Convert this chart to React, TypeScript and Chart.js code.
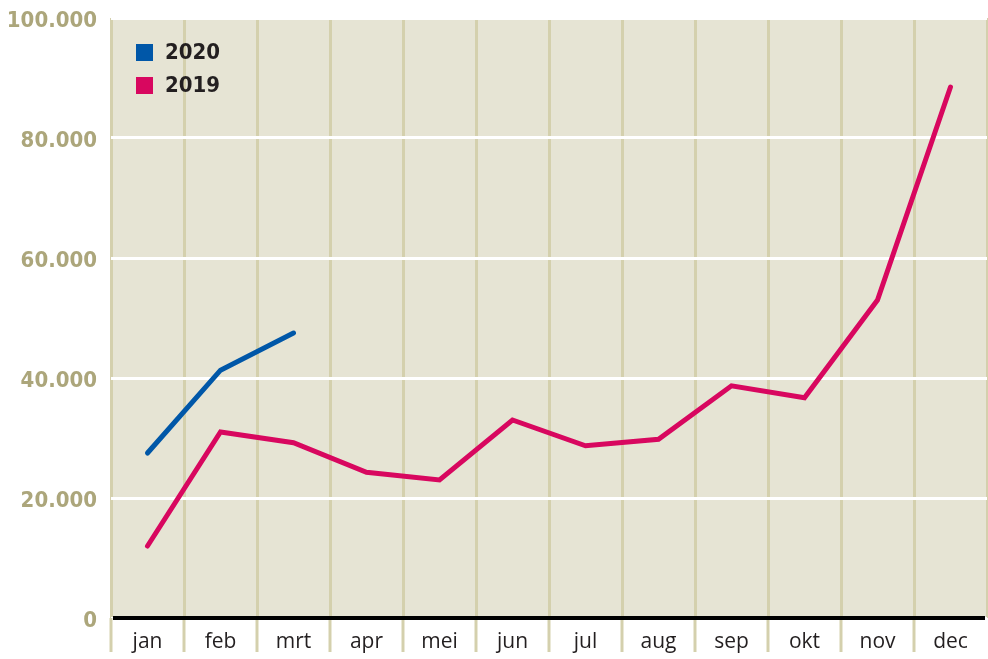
import React, { useEffect, useRef } from "react";
import { Chart, registerables } from "chart.js";

Chart.register(...registerables);

const months = ["jan", "feb", "mrt", "apr", "mei", "jun", "jul", "aug", "sep", "okt", "nov", "dec"];
const values2020 = [27500, 41300, 47500];
const values2019 = [12000, 31000, 29200, 24300, 23000, 33000, 28700, 29800, 38700, 36700, 53000, 88500];
const seriesLabels = ["2020", "2019"];
const seriesColors = ["#0057a8", "#d8075f"];

const formatTick = (v: number) => String(v).replace(/\B(?=(\d{3})+(?!\d))/g, ".");

const decorPlugin = {
  id: "decor",
  beforeDraw(chart: any) {
    const { ctx, chartArea } = chart;
    ctx.save();
    ctx.fillStyle = "#e6e4d4";
    ctx.fillRect(chartArea.left, chartArea.top, chartArea.right - chartArea.left, chartArea.bottom - chartArea.top);
    ctx.restore();
  },
  afterDraw(chart: any) {
    const { ctx, chartArea, height } = chart;
    const x = chart.scales.x;
    ctx.save();
    ctx.strokeStyle = "#d4d0ad";
    ctx.lineWidth = 3;
    for (let i = 0; i < months.length; i++) {
      const px = x.getPixelForValue(i - 0.5);
      ctx.beginPath();
      ctx.moveTo(px, chartArea.bottom);
      ctx.lineTo(px, height - 7);
      ctx.stroke();
    }
    const y0 = chart.scales.y.getPixelForValue(0);
    ctx.strokeStyle = "#000";
    ctx.lineWidth = 4;
    ctx.beginPath();
    ctx.moveTo(chartArea.left + 2, y0);
    ctx.lineTo(chartArea.right - 2, y0);
    ctx.stroke();
    ctx.font = "bold 22px 'DejaVu Sans Condensed', 'Liberation Sans', sans-serif";
    ctx.textBaseline = "middle";
    ctx.textAlign = "left";
    chart.data.datasets.forEach((ds: any, i: number) => {
      const top = chartArea.top + 26 + i * 33;
      ctx.fillStyle = ds.borderColor;
      ctx.fillRect(chartArea.left + 25, top, 17, 17);
      ctx.fillStyle = "#231f20";
      ctx.fillText(ds.label, chartArea.left + 54, top + 9);
    });
    ctx.restore();
  },
};

export default function App() {
  const ref = useRef<HTMLCanvasElement>(null);
  useEffect(() => {
    document.body.style.margin = "0";
    const chart = new Chart(ref.current as HTMLCanvasElement, {
      type: "line",
      data: {
        labels: months,
        datasets: [
          {
            label: seriesLabels[0],
            data: values2020,
            borderColor: seriesColors[0],
            backgroundColor: seriesColors[0],
            borderWidth: 5,
            pointRadius: 0,
            borderCapStyle: "round",
            tension: 0,
          },
          {
            label: seriesLabels[1],
            data: values2019,
            borderColor: seriesColors[1],
            backgroundColor: seriesColors[1],
            borderWidth: 5,
            pointRadius: 0,
            borderCapStyle: "round",
            tension: 0,
          },
        ],
      },
      options: {
        responsive: false,
        animation: false,
        layout: { padding: { top: 18, right: 1, left: 0, bottom: 0 } },
        plugins: { legend: { display: false }, tooltip: { enabled: false } },
        scales: {
          x: {
            offset: true,
            grid: {
              offset: true,
              color: (c: any) => (c.index === months.length ? "rgba(0,0,0,0)" : "#d4d0ad"),
              lineWidth: 3,
              drawTicks: false,
            },
            border: { display: false },
            ticks: {
              color: "#231f20",
              padding: 11,
              font: { family: "'Open Sans', sans-serif", size: 21 },
            },
            afterFit: (s: any) => {
              s.height = 41;
              s.paddingLeft = 0;
              s.paddingRight = 0;
            },
          },
          y: {
            min: 0,
            max: 100000,
            grid: { color: "#ffffff", lineWidth: 3, drawTicks: false },
            border: { display: false },
            ticks: {
              stepSize: 20000,
              padding: 14,
              labelOffset: 3,
              color: "#aca67b",
              font: { family: "'DejaVu Sans Condensed', 'Liberation Sans', sans-serif", size: 22, weight: "bold" },
              callback: (v: any) => formatTick(Number(v)),
            },
            afterFit: (s: any) => {
              s.width = 111;
              s.paddingTop = 0;
              s.paddingBottom = 0;
            },
          },
        },
      },
      plugins: [decorPlugin],
    });
    return () => chart.destroy();
  }, []);
  return (
    <div style={{ position: "absolute", left: 0, top: 0, width: 988, height: 659 }}>
      <canvas ref={ref} width={988} height={659} />
    </div>
  );
}
